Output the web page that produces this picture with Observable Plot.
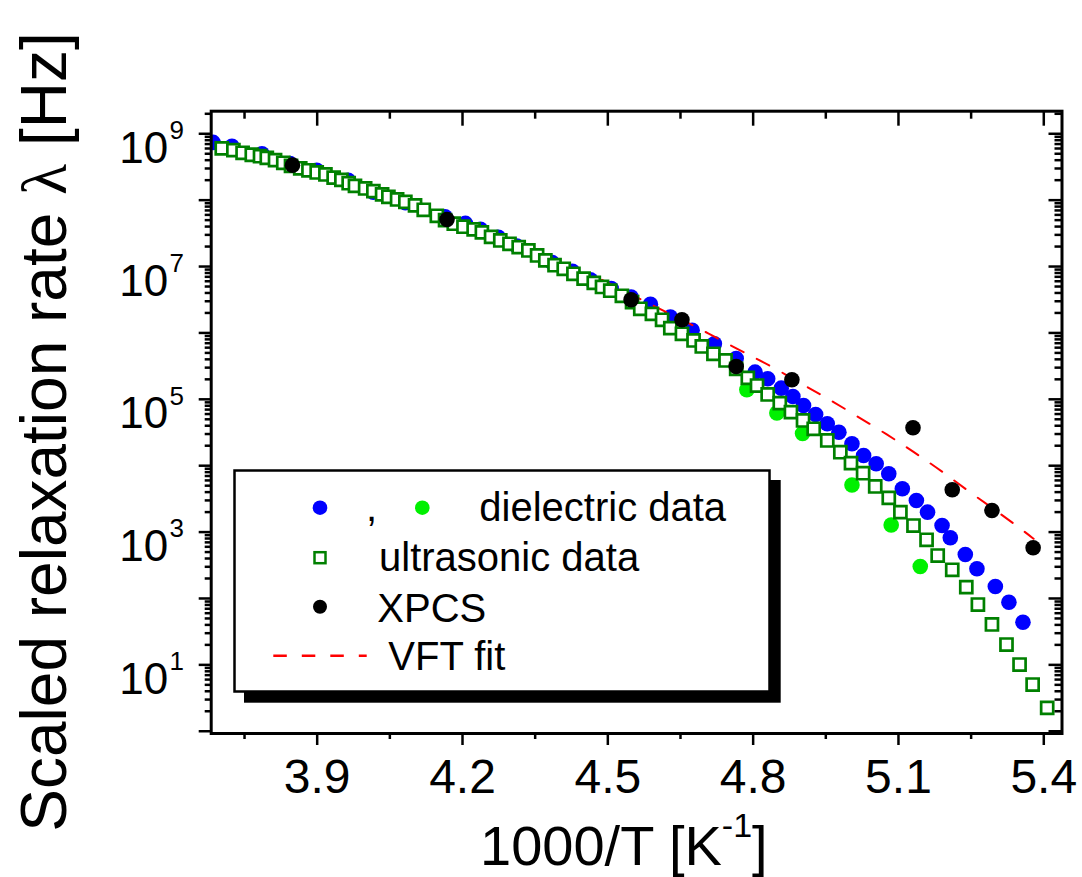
<!DOCTYPE html>
<html>
<head>
<meta charset="utf-8">
<script src="https://cdn.jsdelivr.net/npm/d3@7"></script>
<script src="https://cdn.jsdelivr.net/npm/@observablehq/plot@0.6"></script>
<style>
  html, body { margin: 0; padding: 0; background: #fff; }
  #chart svg { display: block; }
</style>
</head>
<body>
<div id="chart"></div>
<script>
// ---------- data (x = 1000/T in K^-1, values given as log10 of the scaled rate in Hz) ----------
const ultrasonicX = [3.703,3.727,3.746,3.765,3.782,3.796,3.813,3.830,3.846,3.865,3.882,3.899,3.917,3.934,3.950,3.965,3.978,3.999,4.016,4.034,4.047,4.065,4.082,4.102,4.120,
  4.147,4.164,4.182,4.202,4.223,4.240,4.259,4.278,4.297,4.316,4.336,4.354,4.371,4.390,4.409,4.429,4.450,4.471,4.488,4.505,4.529,4.550,4.567,
  4.591,4.612,4.629,4.653,4.677,4.694,4.718,4.743,4.765,4.789,4.808,4.830,4.855,4.878,4.903,4.925,4.953,4.980,5.002,
  5.027,5.052,5.080,5.104,5.131,5.158,5.181,5.211,5.240,5.264,5.293,5.323,5.350,5.377,5.407];
const ultrasonicLogRate = [8.779,8.753,8.714,8.684,8.662,8.638,8.602,8.563,8.518,8.480,8.450,8.417,8.387,8.340,8.305,8.255,8.215,8.176,8.135,8.088,8.051,8.010,7.974,7.922,7.855,
  7.765,7.700,7.645,7.600,7.560,7.515,7.448,7.393,7.343,7.292,7.242,7.167,7.093,7.020,6.966,6.891,6.818,6.755,6.692,6.636,6.560,6.463,6.364,
  6.288,6.198,6.072,5.987,5.886,5.796,5.686,5.585,5.460,5.324,5.208,5.073,4.942,4.806,4.681,4.556,4.380,4.203,4.038,
  3.887,3.687,3.516,3.300,3.099,2.884,2.647,2.432,2.170,1.909,1.608,1.306,1.005,0.704,0.353];

const dielectricBlueX = [3.685,3.724,3.786,3.844,3.899,3.964,4.016,4.082,4.164,4.206,4.237,4.274,4.312,4.385,4.427,4.464,4.507,4.548,4.588,4.629,4.674,
  4.720,4.765,4.804,4.830,4.858,4.882,4.904,4.929,4.953,4.977,5.004,5.028,5.054,5.080,5.108,5.137,5.160,5.190,5.207,5.238,5.262,5.300,5.328,5.357];
const dielectricBlueLogRate = [8.87,8.81,8.70,8.55,8.45,8.30,8.12,7.96,7.75,7.65,7.56,7.44,7.31,7.06,6.93,6.80,6.67,6.54,6.43,6.24,6.04,
  5.837,5.615,5.409,5.309,5.168,5.043,4.907,4.772,4.632,4.505,4.330,4.154,4.029,3.878,3.652,3.476,3.300,3.099,2.914,2.662,2.447,2.180,1.944,1.642];

const dielectricGreenX = [4.787,4.849,4.902,5.004,5.085,5.145];
const dielectricGreenLogRate = [5.143,4.794,4.485,3.709,3.107,2.481];

const xpcsX = [3.849,4.168,4.548,4.653,4.765,4.880,5.130,5.211,5.293,5.378];
const xpcsLogRate = [8.527,7.709,6.499,6.198,5.494,5.294,4.571,3.637,3.325,2.763];

const vftX = [4.488,4.548,4.602,4.670,4.722,4.780,4.839,4.904,4.956,5.011,5.077,5.131,5.190,5.249,5.311,5.366,5.379];
const vftLogRate = [6.80,6.58,6.379,6.138,5.936,5.710,5.494,5.215,5.005,4.760,4.470,4.210,3.915,3.590,3.275,2.974,2.899];

// ---------- ticks ----------
const xMajorTicks = [3.9, 4.2, 4.5, 4.8, 5.1, 5.4];
const xMinorTicks = [3.75, 4.05, 4.35, 4.65, 4.95, 5.25];
const xTickLabels = ["3.9", "4.2", "4.5", "4.8", "5.1", "5.4"];
const yDecadeExponents = [0, 1, 2, 3, 4, 5, 6, 7, 8, 9];
const yLabelExponents = [1, 3, 5, 7, 9];
const yMinorMantissas = [2, 3, 4, 5, 6, 7, 8, 9];

// ---------- build rows ----------
const rows = (xs, ls) => xs.map((x, i) => ({x, y: 10 ** ls[i]}));
const ultrasonic = rows(ultrasonicX, ultrasonicLogRate);
const blue = rows(dielectricBlueX, dielectricBlueLogRate);
const green = rows(dielectricGreenX, dielectricGreenLogRate);
const xpcs = rows(xpcsX, xpcsLogRate);
const vft = rows(vftX, vftLogRate);

const yMax = 10 ** 9.34, yMin = 10 ** -0.034;
const yDecades = yDecadeExponents.map(e => 10 ** e);
const yLabeled = yLabelExponents.map(e => 10 ** e);
const yMinor = [];
for (const e of yDecadeExponents) for (const m of yMinorMantissas) { const v = m * 10 ** e; if (v <= yMax) yMinor.push(v); }

const FONT = "'Liberation Sans', Arial, Helvetica, sans-serif";
const blank = () => "";
const tickStyle = {strokeWidth: 2.5, label: null, tickFormat: blank};

const plot = Plot.plot({
  width: 1082,
  height: 877,
  marginLeft: 210.7,
  marginRight: 20.5,
  marginTop: 110.7,
  marginBottom: 144,
  x: {domain: [3.6812, 5.4376], label: null},
  y: {type: "log", domain: [yMin, yMax], label: null},
  style: {fontFamily: FONT, background: "white", color: "black", overflow: "visible"},
  marks: [
    Plot.dot(blue, {x: "x", y: "y", r: 7.8, fill: "#0000ff", clip: true}),
    Plot.dot(green, {x: "x", y: "y", r: 7.8, fill: "#00f000", clip: true}),
    Plot.line(vft, {x: "x", y: "y", stroke: "#ff0000", strokeWidth: 2, strokeDasharray: "14,15", curve: "basis"}),
    Plot.dot(ultrasonic, {x: "x", y: "y", symbol: "square", r: 6.8, stroke: "#008000", strokeWidth: 2.7, fill: "white", clip: true}),
    Plot.dot(xpcs, {x: "x", y: "y", r: 7.8, fill: "black", clip: true}),
    Plot.frame({stroke: "black", strokeWidth: 3}),
    // bottom axis
    Plot.axisX(xMajorTicks, {anchor: "bottom", tickSize: 12, tickPadding: 13, strokeWidth: 2.5, fontSize: 48, label: null,
      tickFormat: d => xTickLabels[xMajorTicks.indexOf(d)]}),
    Plot.axisX(xMinorTicks, {anchor: "bottom", tickSize: 6, ...tickStyle}),
    // top axis (mirrored, pointing into the frame)
    Plot.axisX(xMajorTicks, {anchor: "top", tickSize: 14, dy: 14, ...tickStyle}),
    Plot.axisX(xMinorTicks, {anchor: "top", tickSize: 7, dy: 7, ...tickStyle}),
    // left axis
    Plot.axisY(yDecades, {anchor: "left", tickSize: 12, ...tickStyle}),
    Plot.axisY(yMinor, {anchor: "left", tickSize: 6, ...tickStyle}),
    // right axis (mirrored, pointing into the frame)
    Plot.axisY(yDecades, {anchor: "right", tickSize: 14, dx: -14, ...tickStyle}),
    Plot.axisY(yMinor, {anchor: "right", tickSize: 8, dx: -8, ...tickStyle}),
    // y tick labels: base "10" and exponent
    Plot.axisY(yLabeled, {anchor: "left", tickSize: 0, tickPadding: 43, fontSize: 44, dy: 15, label: null, tickFormat: () => "10"}),
    Plot.axisY(yLabeled, {anchor: "left", tickSize: 0, tickPadding: 41.7, textAnchor: "start", fontSize: 26, dy: -3, label: null,
      tickFormat: d => String(yLabelExponents[yLabeled.indexOf(d)])})
  ]
});

const svg = d3.select(plot);

// axis titles
const yt = svg.append("text")
  .attr("transform", "translate(66,432) rotate(-90)")
  .attr("text-anchor", "middle")
  .attr("font-family", FONT)
  .attr("font-size", 64)
  .attr("fill", "black");
yt.append("tspan").text("Scaled relaxation rate ");
yt.append("tspan").attr("font-family", "'Liberation Serif', 'DejaVu Serif', serif").text("λ");
yt.append("tspan").text(" [Hz]");

const xt = svg.append("text")
  .attr("x", 480).attr("y", 865)
  .attr("text-anchor", "start")
  .attr("font-family", FONT)
  .attr("font-size", 56)
  .attr("fill", "black");
xt.append("tspan").text("1000/T [K");
xt.append("tspan").attr("font-size", 34).attr("dy", -28).text("-1");
xt.append("tspan").attr("dy", 28).text("]");

// legend box with shadow
const lg = svg.append("g").attr("font-family", FONT).attr("font-size", 40).attr("fill", "black").attr("text-anchor", "start");
lg.append("rect").attr("x", 244).attr("y", 480).attr("width", 536.7).attr("height", 222.7).attr("fill", "black");
lg.append("rect").attr("x", 234.5).attr("y", 470.5).attr("width", 535).attr("height", 221)
  .attr("fill", "white").attr("stroke", "black").attr("stroke-width", 2.5);
lg.append("circle").attr("cx", 320).attr("cy", 507.7).attr("r", 7.3).attr("fill", "#0000ff");
lg.append("text").attr("x", 366).attr("y", 521).attr("text-anchor", "start").text(",");
lg.append("circle").attr("cx", 422.3).attr("cy", 507.7).attr("r", 7.3).attr("fill", "#00f000");
lg.append("text").attr("x", 479.3).attr("y", 520.7).attr("text-anchor", "start").text("dielectric data");
lg.append("rect").attr("x", 314.5).attr("y", 552.2).attr("width", 11).attr("height", 11)
  .attr("fill", "white").attr("stroke", "#008000").attr("stroke-width", 2.5);
lg.append("text").attr("x", 379).attr("y", 571).attr("text-anchor", "start").text("ultrasonic data");
lg.append("circle").attr("cx", 320).attr("cy", 606.7).attr("r", 7).attr("fill", "black");
lg.append("text").attr("x", 377.3).attr("y", 621.7).attr("text-anchor", "start").text("XPCS");
lg.append("line").attr("x1", 273.3).attr("x2", 366.7).attr("y1", 655.7).attr("y2", 655.7)
  .attr("stroke", "#ff0000").attr("stroke-width", 2.5).attr("stroke-dasharray", "13.5,15");
lg.append("text").attr("x", 388.3).attr("y", 670).attr("text-anchor", "start").text("VFT fit");

document.getElementById("chart").appendChild(plot);
</script>
</body>
</html>
